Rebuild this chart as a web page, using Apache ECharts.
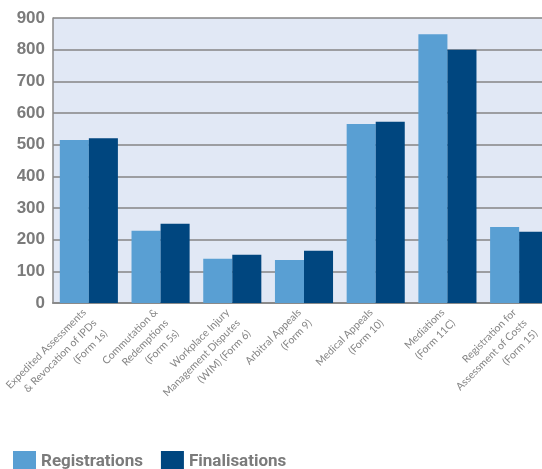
<!DOCTYPE html>
<html>
<head>
<meta charset="utf-8">
<script src="https://cdn.jsdelivr.net/npm/echarts@6/dist/echarts.min.js"></script>
<style>
  html, body { margin: 0; padding: 0; background: #ffffff; }
  #chart { width: 542px; height: 469px; }
</style>
</head>
<body>
<div id="chart"></div>
<script>
// Application types (x-axis categories)
const categories = [
  'Expedited Assessments\n& Revocation of IPDs\n(Form 1s)',
  'Commutation &\nRedemptions\n(Form 5s)',
  'Workplace Injury\nManagement Disputes\n(WIM) (Form 6)',
  'Arbitral Appeals\n(Form 9)',
  'Medical Appeals\n(Form 10)',
  'Mediations\n(Form 11C)',
  'Registration for\nAssessment of Costs\n(Form 15)'
];

// Counts per application type
const registrations = [515, 228, 140, 136, 565, 849, 240];
const finalisations = [520, 250, 152, 165, 572, 800, 225];

// Value axis range
const yMin = 0;
const yMax = 900;
const yStep = 100;

const chart = echarts.init(document.getElementById('chart'), null, { renderer: 'canvas' });

chart.setOption({
  animation: false,
  backgroundColor: '#ffffff',
  grid: {
    left: 53,
    top: 18,
    width: 502,
    height: 285,
    containLabel: false,
    outerBoundsMode: 'none',
    show: true,
    backgroundColor: '#e1e8f5',
    borderWidth: 0
  },
  legend: {
    left: 8,
    bottom: -9,
    itemWidth: 23,
    itemHeight: 22,
    itemGap: 18,
    icon: 'rect',
    textStyle: {
      fontFamily: 'Roboto',
      fontWeight: 'bold',
      fontSize: 17,
      color: '#7b7b7b'
    },
    data: ['Registrations', 'Finalisations']
  },
  xAxis: {
    type: 'category',
    data: categories,
    axisLine: { show: true, lineStyle: { color: '#8a8a8a', width: 2 } },
    axisTick: { show: false },
    axisLabel: {
      interval: 0,
      rotate: 45,
      margin: 8,
      align: 'right',
      verticalAlign: 'top',
      padding: [-11, 3, 0, 0],
      fontFamily: 'Lato',
      fontSize: 10.5,
      lineHeight: 15,
      color: '#858585'
    }
  },
  yAxis: {
    type: 'value',
    min: yMin,
    max: yMax,
    interval: yStep,
    axisLine: { show: true, lineStyle: { color: '#8a8a8a', width: 1.5 } },
    axisTick: { show: false },
    splitLine: { show: true, lineStyle: { color: '#858585', width: 1.5 } },
    axisLabel: {
      margin: 8,
      fontFamily: 'Liberation Sans',
      fontWeight: 'bold',
      fontSize: 17,
      color: '#7b7b7b'
    }
  },
  series: [
    {
      name: 'Registrations',
      type: 'bar',
      data: registrations,
      barGap: '0%',
      barCategoryGap: '19%',
      itemStyle: { color: '#599fd3' }
    },
    {
      name: 'Finalisations',
      type: 'bar',
      data: finalisations,
      barGap: '0%',
      barCategoryGap: '19%',
      itemStyle: { color: '#00467f' }
    }
  ]
});
</script>
</body>
</html>
